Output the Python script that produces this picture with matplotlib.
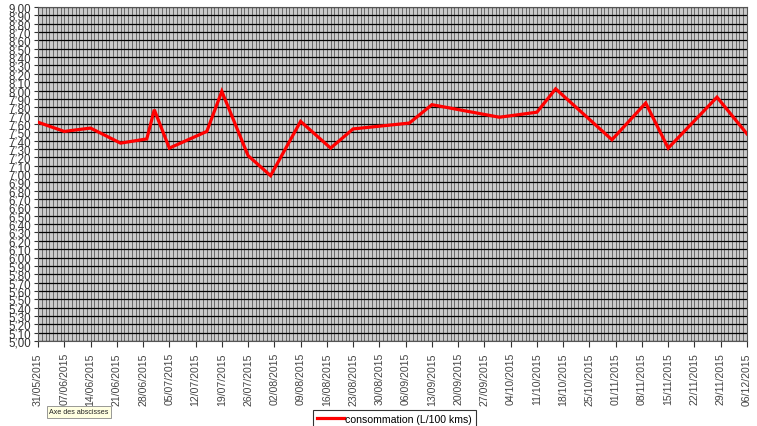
import matplotlib
matplotlib.use("Agg")
import matplotlib.pyplot as plt
import matplotlib.dates as mdates
import numpy as np
import datetime as dt

plt.rcParams["font.family"] = ["Liberation Sans", "DejaVu Sans"]

# Data
dates_str = ["31/05/2015", "07/06/2015", "14/06/2015", "22/06/2015", "29/06/2015",
             "01/07/2015", "05/07/2015", "15/07/2015", "19/07/2015", "26/07/2015",
             "01/08/2015", "09/08/2015", "17/08/2015", "23/08/2015", "07/09/2015",
             "13/09/2015", "01/10/2015", "11/10/2015", "16/10/2015", "31/10/2015",
             "09/11/2015", "15/11/2015", "28/11/2015", "06/12/2015"]
consommation = [7.62, 7.51, 7.55, 7.37, 7.42,
                7.77, 7.31, 7.51, 7.99, 7.22,
                6.98, 7.63, 7.31, 7.54, 7.61,
                7.83, 7.68, 7.74, 8.02, 7.41,
                7.85, 7.31, 7.92, 7.48]
series_label = "consommation (L/100 kms)"
x_start = "31/05/2015"
x_end = "06/12/2015"
y_min, y_max, y_step = 5.0, 9.0, 0.1

dates = [dt.datetime.strptime(d, "%d/%m/%Y") for d in dates_str]
d0 = dt.datetime.strptime(x_start, "%d/%m/%Y")
d1 = dt.datetime.strptime(x_end, "%d/%m/%Y")

W, H = 757, 427
fig = plt.figure(figsize=(W / 100, H / 100), dpi=100)
fig.patch.set_facecolor("white")
ax = fig.add_axes([38 / W, 1 - 342 / H, (747 - 38) / W, (342 - 8) / H])
ax.set_facecolor("#cacaca")

# daily vertical grid lines
ndays = (d1 - d0).days
for i in range(ndays + 1):
    ax.axvline(mdates.date2num(d0 + dt.timedelta(days=i)), color="#5a5a5a", lw=0.6, zorder=1)
# horizontal grid
yt = np.round(np.arange(y_min, y_max + 1e-9, y_step), 2)
for y in yt:
    ax.axhline(y, color="black", lw=0.9, zorder=1.5)

ax.plot(mdates.date2num(dates), consommation, color="#ff0000", lw=2.3, zorder=3,
        solid_joinstyle="miter", label=series_label)

ax.set_xlim(mdates.date2num(d0), mdates.date2num(d1))
ax.set_ylim(y_min, y_max)
ax.set_yticks(yt)
ax.set_yticklabels([f"{v:.2f}".replace(".", ",") for v in yt], fontsize=8.3, color="#333333")

xt = [d0 + dt.timedelta(days=7 * k) for k in range(ndays // 7 + 1)]
ax.set_xticks(mdates.date2num(xt))
ax.set_xticklabels([d.strftime("%d/%m/%Y") for d in xt], rotation=90, fontsize=7.6, color="#444444")
ax.tick_params(axis="x", direction="out", length=4, width=0.8, color="#333333", pad=4)
ax.tick_params(axis="y", direction="out", length=3, width=0.8, color="#333333", pad=2)

for s in ax.spines.values():
    s.set_color("#555555")
    s.set_linewidth(0.8)

leg = fig.legend(loc="upper left", bbox_to_anchor=(313 / W, 1 - 411 / H),
                 fontsize=7.6, frameon=True, fancybox=False, borderpad=0.35,
                 handlelength=2.6, handletextpad=0.1, borderaxespad=0)
leg.get_frame().set_edgecolor("black")
leg.get_frame().set_linewidth(0.8)

fig.text(49 / W, 1 - 413 / H, "Axe des abscisses", fontsize=5.1, color="#222222",
         va="center", ha="left",
         bbox=dict(boxstyle="square,pad=0.35", facecolor="#ffffe1", edgecolor="#888888", lw=0.6))

fig.savefig("out.png", dpi=100)
